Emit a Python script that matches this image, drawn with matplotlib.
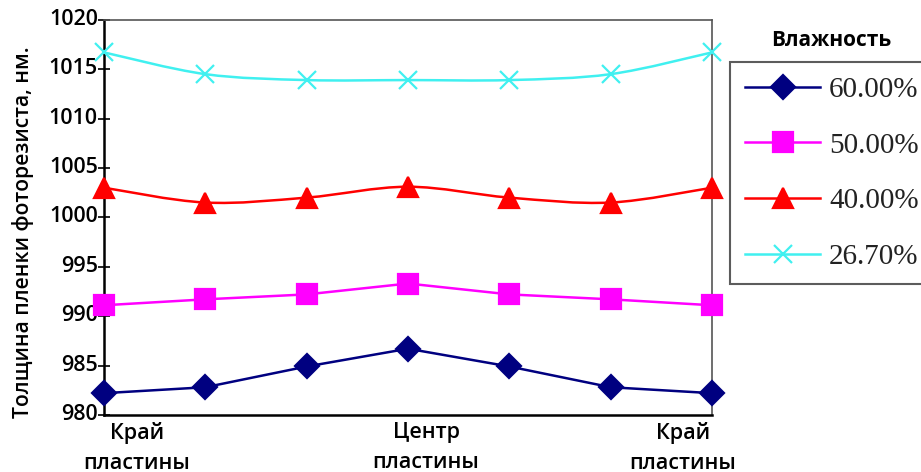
import matplotlib
matplotlib.use('Agg')
from matplotlib import pyplot as plt
from matplotlib.path import Path
from matplotlib.patches import PathPatch
import matplotlib.transforms as mtransforms
import numpy as np

positions = [0, 1, 2, 3, 4, 5, 6]
hum_60 = [982.2, 982.8, 984.9, 986.7, 984.9, 982.8, 982.2]
hum_50 = [991.1, 991.7, 992.2, 993.3, 992.2, 991.7, 991.1]
hum_40 = [1003.0, 1001.5, 1002.0, 1003.1, 1002.0, 1001.5, 1003.0]
hum_267 = [1016.7, 1014.5, 1013.9, 1013.9, 1013.9, 1014.5, 1016.7]
series_labels = ['60.00%', '50.00%', '40.00%', '26.70%']
tick_pos = [0, 3, 6]
tick_labels = ['Край\nпластины', 'Центр\nпластины', 'Край\nпластины']


def smooth_path(x, y):
    # catmull-rom style bezier through the points (like a smoothed line)
    x = np.asarray(x, float)
    y = np.asarray(y, float)
    pts = np.column_stack([x, y])
    verts = [pts[0]]
    codes = [Path.MOVETO]
    n = len(pts)
    for i in range(n - 1):
        p0 = pts[i - 1] if i > 0 else pts[i]
        p1 = pts[i]
        p2 = pts[i + 1]
        p3 = pts[i + 2] if i + 2 < n else pts[i + 1]
        c1 = p1 + (p2 - p0) / 6.0
        c2 = p2 - (p3 - p1) / 6.0
        verts += [c1, c2, p2]
        codes += [Path.CURVE4] * 3
    return Path(verts, codes)


def main():
    fig = plt.figure(figsize=(9.21, 4.72), dpi=100)
    ax = fig.add_axes([0.113, 0.121, 0.660, 0.837])

    styles = [
        (hum_60, '#000080', 'D', 12, False),
        (hum_50, '#ff00ff', 's', 15, False),
        (hum_40, '#ff0000', '^', 15, True),
        (hum_267, '#40f0f0', 'x', 13, True),
    ]
    handles = []
    for (vals, col, mk, ms, smooth), lab in zip(styles, series_labels):
        if smooth:
            ax.add_patch(PathPatch(smooth_path(positions, vals), fill=False,
                                   edgecolor=col, lw=1.8, zorder=2))
            h, = ax.plot(positions, vals, linestyle='none', marker=mk,
                         markersize=ms, color=col, mew=1.6, zorder=3,
                         clip_on=False)
        else:
            h, = ax.plot(positions, vals, linestyle='-', lw=1.8, marker=mk,
                         markersize=ms, color=col, mew=1.6, zorder=3,
                         clip_on=False)
        handles.append(plt.Line2D([], [], color=col, lw=1.8, marker=mk,
                                  markersize=ms, mew=1.6))

    ax.set_xlim(0, 6)
    ax.set_ylim(980, 1020)
    ax.set_yticks(np.arange(980, 1021, 5))
    ax.set_yticklabels([str(v) for v in range(980, 1021, 5)],
                       fontsize=15.5, family='Open Sans', fontweight='semibold')
    ax.set_xticks(tick_pos)
    ax.set_xticklabels(tick_labels, fontsize=15.5, family='Open Sans',
                       fontweight='semibold', linespacing=1.55)
    ax.tick_params(axis='x', length=0, pad=5)
    ax.tick_params(axis='y', direction='inout', length=9, width=1.2, pad=0)
    offsets = [33, 18, -29]
    for lbl, dx in zip(ax.get_xticklabels(), offsets):
        lbl.set_transform(lbl.get_transform() +
                          mtransforms.ScaledTranslation(dx / 100, 0, fig.dpi_scale_trans))
    for lbl in ax.get_yticklabels():
        lbl.set_transform(lbl.get_transform() +
                          mtransforms.ScaledTranslation(0, 0.03, fig.dpi_scale_trans))

    for s in ['left', 'bottom']:
        ax.spines[s].set_color('black')
        ax.spines[s].set_linewidth(1.8)
    for s in ['top', 'right']:
        ax.spines[s].set_color('#555555')
        ax.spines[s].set_linewidth(1.2)

    ax.set_ylabel('Толщина пленки фоторезиста, нм.', fontsize=15.2,
                  family='Open Sans', fontweight='semibold')
    ax.yaxis.set_label_coords(-0.115, 0.463)

    leg = fig.legend(handles, series_labels, loc='upper left',
                     bbox_to_anchor=(730 / 921, 1 - 62 / 472),
                     prop={'family': 'Liberation Serif', 'size': 21},
                     handlelength=2.6, handletextpad=0.3, labelspacing=1.0,
                     borderpad=0.5, fancybox=False, frameon=True,
                     borderaxespad=0)
    leg.get_frame().set_edgecolor('#333333')
    leg.get_frame().set_linewidth(1.5)
    for t in leg.get_texts():
        t.set_color('#222222')

    fig.text(831 / 921, 1 - 40 / 472, 'Влажность', ha='center', va='center',
             fontsize=15, family='Open Sans', fontweight='bold')

    fig.savefig('out.png', dpi=100)


if __name__ == "__main__":
    main()
